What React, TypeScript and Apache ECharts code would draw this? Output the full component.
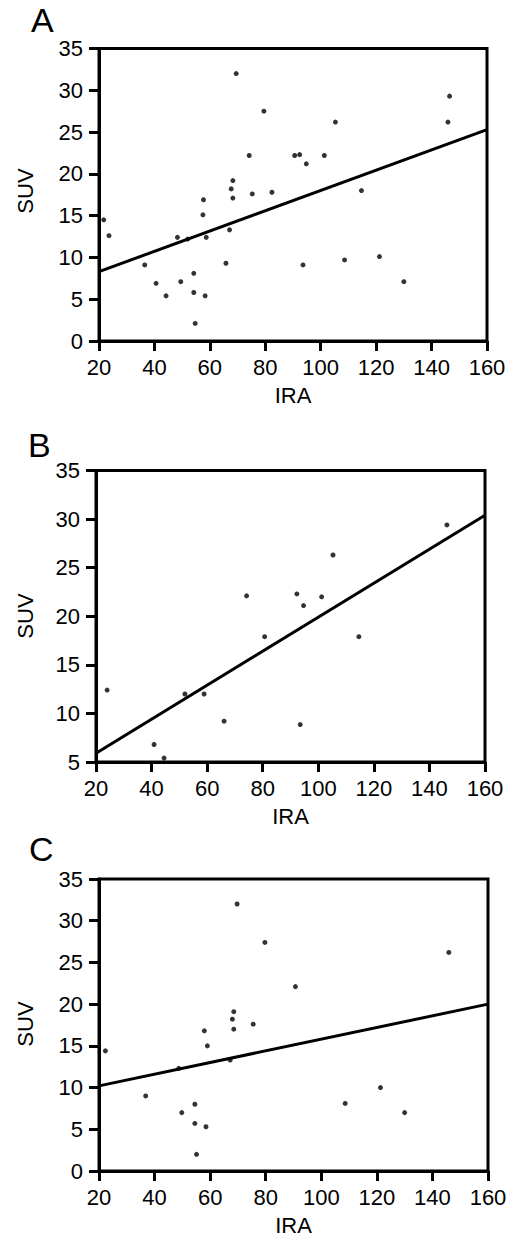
import React, { useEffect, useRef } from "react";
import * as echarts from "echarts";

// ---- data ----
const panelLabels = ["A", "B", "C"];
const xName = "IRA";
const yName = "SUV";
const xMin = 20;
const xMax = 160;
const xStep = 20;
const yMins = [0, 5, 0];
const yMax = 35;
const yStep = 5;

const pointsA: [number, number][] = [
  [21.7, 14.5], [23.6, 12.6], [36.5, 9.1], [40.6, 6.9], [44.2, 5.4], [48.3, 12.4],
  [49.5, 7.1], [52.0, 12.2], [54.2, 8.1], [54.2, 5.8], [54.7, 2.1], [58.3, 5.4],
  [57.7, 16.9], [57.5, 15.1], [58.7, 12.4], [65.8, 9.3], [67.1, 13.3], [67.7, 18.2],
  [68.3, 19.2], [68.3, 17.1], [69.5, 32.0], [74.2, 22.2], [75.3, 17.6], [79.5, 27.5],
  [82.4, 17.8], [90.6, 22.2], [92.4, 22.3], [93.6, 9.1], [94.8, 21.2], [101.3, 22.2],
  [105.3, 26.2], [108.6, 9.7], [114.7, 18.0], [121.2, 10.1], [130.0, 7.1], [145.9, 26.2],
  [146.5, 29.3],
];

const pointsB: [number, number][] = [
  [24.0, 12.4], [40.9, 6.8], [44.5, 5.4], [52.0, 12.0], [58.9, 12.0], [66.1, 9.2],
  [74.2, 22.1], [80.7, 17.9], [92.3, 22.3], [93.5, 8.85], [94.7, 21.1], [101.2, 22.0],
  [105.3, 26.3], [114.6, 17.9], [146.3, 29.4],
];

const pointsC: [number, number][] = [
  [22.3, 14.4], [36.8, 9.0], [48.7, 12.3], [49.8, 7.0], [54.5, 8.0], [54.5, 5.7],
  [55.1, 2.0], [58.5, 5.3], [57.9, 16.8], [59.0, 15.0], [67.2, 13.3], [68.0, 18.2],
  [68.5, 19.1], [68.5, 17.0], [69.7, 32.0], [75.5, 17.6], [79.7, 27.4], [90.7, 22.1],
  [108.6, 8.1], [121.3, 10.0], [130.0, 7.0], [145.9, 26.2],
];

const fitA: [number, number][] = [[20, 8.3], [160, 25.3]];
const fitB: [number, number][] = [[20, 5.9], [160, 30.4]];
const fitC: [number, number][] = [[20, 10.2], [160, 20.0]];

const panelPoints = [pointsA, pointsB, pointsC];
const panelFits = [fitA, fitB, fitC];

// ---- layout ----
const FONT = '"Liberation Sans", Arial, Helvetica, sans-serif';
const grids = [
  { left: 99, top: 48.5, width: 388, height: 292.5 },
  { left: 96, top: 470.5, width: 389, height: 291.5 },
  { left: 99, top: 879, width: 389, height: 292 },
];
const letterPos = [
  { x: 31, y: 20 },
  { x: 28, y: 445 },
  { x: 29, y: 849 },
];
const suvPos = [
  { x: 25, y: 191 },
  { x: 25, y: 616 },
  { x: 25, y: 1024 },
];

export default function App() {
  const ref = useRef<HTMLDivElement>(null);

  useEffect(() => {
    if (!ref.current) return;
    const chart = echarts.init(ref.current, undefined, { renderer: "svg" });

    const axisLine = { show: true, lineStyle: { color: "#000", width: 3 } };
    const axisTick = { show: true, length: 10, lineStyle: { color: "#000", width: 3 } };
    const labelStyle = { fontFamily: FONT, fontSize: 22, color: "#000" };

    const option: any = {
      animation: false,
      backgroundColor: "#fff",
      grid: grids.map((g) => ({
        ...g,
        show: true,
        borderColor: "#000",
        borderWidth: 3,
        backgroundColor: "transparent",
        containLabel: false,
      })),
      xAxis: grids.map((_, i) => ({
        gridIndex: i,
        type: "value",
        min: xMin,
        max: xMax,
        interval: xStep,
        name: xName,
        nameLocation: "middle",
        nameGap: 43,
        nameTextStyle: labelStyle,
        axisLine,
        axisTick,
        axisLabel: { ...labelStyle, margin: 15 },
        splitLine: { show: false },
      })),
      yAxis: grids.map((_, i) => ({
        gridIndex: i,
        type: "value",
        min: yMins[i],
        max: yMax,
        interval: yStep,
        axisLine,
        axisTick,
        axisLabel: { ...labelStyle, margin: 16 },
        splitLine: { show: false },
      })),
      series: [
        ...panelPoints.map((pts, i) => ({
          type: "scatter",
          xAxisIndex: i,
          yAxisIndex: i,
          data: pts,
          symbol: "circle",
          symbolSize: 5,
          itemStyle: { color: "#000" },
          silent: true,
        })),
        ...panelFits.map((fit, i) => ({
          type: "line",
          xAxisIndex: i,
          yAxisIndex: i,
          data: fit,
          showSymbol: false,
          symbol: "none",
          lineStyle: { color: "#000", width: 3 },
          silent: true,
        })),
      ],
      graphic: [
        ...panelLabels.map((t, i) => ({
          type: "text",
          x: letterPos[i].x,
          y: letterPos[i].y,
          style: {
            text: t,
            fontFamily: FONT,
            fontSize: 34,
            fill: "#000",
            align: "left",
            verticalAlign: "middle",
          },
        })),
        ...suvPos.map((p) => ({
          type: "text",
          x: p.x,
          y: p.y,
          rotation: Math.PI / 2,
          style: {
            text: yName,
            fontFamily: FONT,
            fontSize: 22,
            fill: "#000",
            align: "center",
            verticalAlign: "middle",
          },
        })),
      ],
    };

    chart.setOption(option);
    return () => chart.dispose();
  }, []);

  return (
    <div
      ref={ref}
      style={{ position: "absolute", left: 0, top: 0, width: 518, height: 1239 }}
    />
  );
}
